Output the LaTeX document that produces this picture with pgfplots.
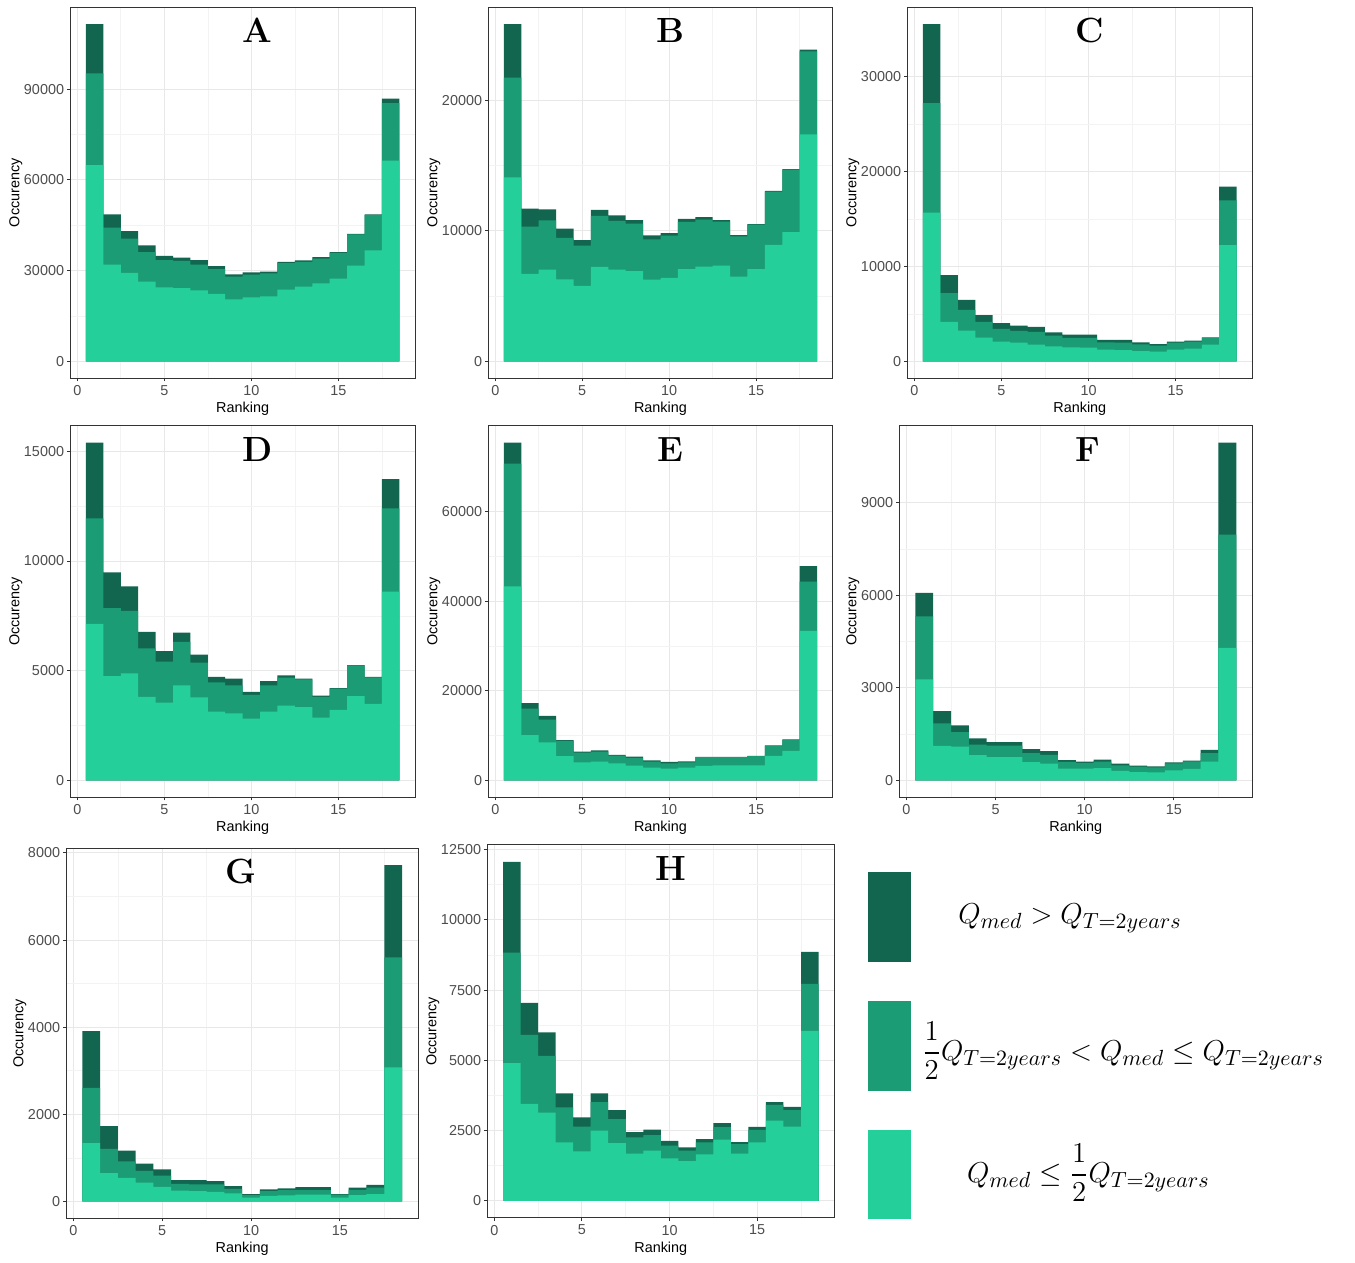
\documentclass[border=0pt]{standalone}
\usepackage{amsmath}
\usepackage{pgfplots}
\pgfplotsset{compat=1.18}
\usepackage{pgfplotstable}
\usepackage{fontspec}
\setsansfont{Liberation Sans}

\definecolor{dk}{HTML}{12664F}
\definecolor{md}{HTML}{1C9C74}
\definecolor{lt}{HTML}{25CF99}
\definecolor{grmaj}{HTML}{E8E8E8}
\definecolor{grmin}{HTML}{F3F3F3}
\definecolor{frm}{HTML}{333333}
\definecolor{tlab}{HTML}{4D4D4D}

% columns: ranking, light top, medium top, total (dark top)
\pgfplotstableread{
x lo mid tot
1 64900 95200 111500
2 32000 44200 48600
3 29300 40600 43100
4 26400 36100 38400
5 24500 33500 34900
6 24200 33200 34300
7 23500 32000 33500
8 22300 30500 31500
9 20500 28000 28800
10 21200 28700 29400
11 21500 29100 29700
12 23700 32500 32900
13 24700 32900 33400
14 25800 34000 34500
15 27400 35900 36100
16 31700 42000 42200
17 36700 48400 48600
18 66400 85400 86900
}\tA
\pgfplotstableread{
x lo mid tot
1 14090 21740 25830
2 6700 10320 11710
3 7030 10810 11650
4 6290 9470 10170
5 5780 8860 9290
6 7240 11140 11600
7 7030 10760 11190
8 6910 10550 10830
9 6260 9340 9650
10 6390 9630 9830
11 7060 10680 10910
12 7260 10860 11060
13 7340 10700 10830
14 6490 9570 9680
15 7060 10470 10520
16 8930 13010 13070
17 9910 14680 14730
18 17380 23740 23870
}\tB
\pgfplotstableread{
x lo mid tot
1 15650 27180 35500
2 4160 7190 9090
3 3240 5430 6490
4 2500 4160 4860
5 2080 3420 4020
6 1970 3210 3770
7 1760 3100 3630
8 1590 2710 3070
9 1480 2470 2820
10 1450 2470 2820
11 1230 2010 2260
12 1200 1970 2260
13 1090 1800 2010
14 1020 1660 1830
15 1230 1970 2080
16 1340 2080 2190
17 1760 2470 2540
18 12230 16960 18400
}\tC
\pgfplotstableread{
x lo mid tot
1 7130 11940 15400
2 4750 7850 9480
3 4880 7730 8850
4 3810 6020 6770
5 3540 5420 5890
6 4330 6320 6740
7 3780 5370 5730
8 3140 4470 4720
9 3050 4330 4640
10 2820 3900 4030
11 3140 4330 4520
12 3410 4690 4790
13 3340 4610 4640
14 2860 3810 3860
15 3220 4180 4210
16 3840 5240 5250
17 3490 4700 4720
18 8600 12400 13730
}\tD
\pgfplotstableread{
x lo mid tot
1 43290 70630 75350
2 10110 16030 17230
3 8460 13560 14380
4 5390 8840 8990
5 4040 6220 6440
6 4190 6440 6670
7 3820 5540 5690
8 3300 5020 5320
9 2850 4190 4490
10 2620 3820 4120
11 2850 4040 4270
12 3220 5170 5240
13 3370 5170 5240
14 3370 5170 5240
15 3370 5390 5470
16 5470 7710 7790
17 6590 9060 9140
18 33330 44340 47790
}\tE
\pgfplotstableread{
x lo mid tot
1 3270 5310 6070
2 1120 1850 2240
3 1090 1560 1780
4 815 1160 1360
5 750 1130 1240
6 750 1130 1240
7 590 880 1010
8 545 825 945
9 380 600 660
10 380 565 610
11 400 610 675
12 305 490 545
13 270 445 480
14 260 425 455
15 325 555 585
16 370 620 640
17 610 880 990
18 4290 7960 10940
}\tF
\pgfplotstableread{
x lo mid tot
1 1340 2610 3910
2 650 1210 1730
3 540 920 1170
4 435 700 870
5 335 595 735
6 250 405 490
7 235 395 490
8 220 390 465
9 185 290 350
10 90 145 170
11 130 235 275
12 140 260 300
13 155 260 330
14 155 260 330
15 90 155 170
16 145 265 320
17 170 320 380
18 3080 5600 7720
}\tG
\pgfplotstableread{
x lo mid tot
1 4900 8830 12060
2 3450 5900 7040
3 3140 5160 5990
4 2080 3320 3820
5 1760 2640 2970
6 2500 3510 3820
7 2050 2910 3230
8 1680 2260 2440
9 1780 2340 2530
10 1510 1960 2130
11 1410 1780 1900
12 1650 2080 2190
13 2180 2620 2760
14 1680 2020 2090
15 2080 2520 2630
16 2850 3410 3510
17 2640 3230 3340
18 6050 7720 8860
}\tH

\pgfplotsset{
  panel/.style={
    scale only axis, anchor=south west,
    xmin=-0.4, xmax=19.4,
    xtick={0,5,10,15}, minor xtick={2.5,7.5,12.5,17.5},
    minor y tick num=1,
    grid=both,
    major grid style={draw=grmaj, line width=0.5pt},
    minor grid style={draw=grmin, line width=0.3pt},
    axis line style={draw=frm, line width=0.5pt},
    tick align=outside, xtick pos=bottom, ytick pos=left,
    major tick length=1.6pt,
    major tick style={draw=frm, line width=0.5pt},
    minor tick style={draw=none},
    ticklabel style={font=\fontsize{7.2}{8}\sffamily, text=tlab},
    xticklabel style={yshift=1.5pt},
    yticklabel style={xshift=2pt, /pgf/number format/fixed, /pgf/number format/1000 sep={}},
    /pgf/number format/assume math mode=true,
    scaled y ticks=false,
    label style={font=\fontsize{7.2}{8}\sffamily},
    xlabel={Ranking}, ylabel={Occurency},
    xlabel style={yshift=3.5pt},
    ylabel style={yshift=-6pt},
  },
  bars/.style={ybar, bar width=1, bar shift=0pt, draw=none},
}

\newcommand{\panel}[4]{%
  \begin{axis}[panel, #1]
    \addplot[bars, fill=dk] table[x=x, y=tot] {#2};
    \addplot[bars, fill=md] table[x=x, y=mid] {#2};
    \addplot[bars, fill=lt] table[x=x, y=lo] {#2};
    \node[font=\fontsize{17.5}{20}\selectfont\bfseries] at (rel axis cs:#3,0.937) {#4};
  \end{axis}}

\begin{document}
\begin{tikzpicture}
\useasboundingbox (0,0) rectangle (677.5pt,631.5pt);

\panel{at={(35.15pt,442.35pt)}, width=172.35pt, height=185.5pt,
  ymin=-5575, ymax=117075, ytick={0,30000,60000,90000}}{\tA}{0.543}{A}
\panel{at={(244.15pt,442.35pt)}, width=172.2pt, height=185.5pt,
  ymin=-1291.5, ymax=27121.5, ytick={0,10000,20000}}{\tB}{0.528}{B}
\panel{at={(453.65pt,442.35pt)}, width=172.5pt, height=185.5pt,
  ymin=-1775, ymax=37275, ytick={0,10000,20000,30000}}{\tC}{0.53}{C}

\panel{at={(35.15pt,232.85pt)}, width=172.35pt, height=185.8pt,
  ymin=-770, ymax=16170, ytick={0,5000,10000,15000}}{\tD}{0.543}{D}
\panel{at={(244.15pt,232.85pt)}, width=172.2pt, height=185.8pt,
  ymin=-3767.5, ymax=79117.5, ytick={0,20000,40000,60000}}{\tE}{0.528}{E}
\panel{at={(449.65pt,232.85pt)}, width=176.5pt, height=185.8pt,
  ymin=-547, ymax=11487, ytick={0,3000,6000,9000}}{\tF}{0.535}{F}

\panel{at={(33.15pt,22.35pt)}, width=175.85pt, height=185pt,
  ymin=-386, ymax=8106, ytick={0,2000,4000,6000,8000}}{\tG}{0.498}{G}
\panel{at={(243.65pt,22.65pt)}, width=173.5pt, height=186.35pt,
  ymin=-603, ymax=12663, ytick={0,2500,5000,7500,10000,12500}}{\tH}{0.529}{H}

% legend
\fill[dk] (434.15pt,150.35pt) rectangle (455.5pt,195.35pt);
\fill[md] (434.15pt,86pt) rectangle (455.5pt,131pt);
\fill[lt] (434.15pt,22.15pt) rectangle (455.5pt,66.5pt);
\node[anchor=west, inner sep=0pt, font=\fontsize{15.7}{18}\selectfont] at (479pt,172.5pt)
  {$Q_{med} > Q_{T=2years}$};
\node[anchor=west, inner sep=0pt, font=\fontsize{15.5}{18}\selectfont] at (460.85pt,106pt)
  {$\dfrac{1}{2}Q_{T=2years} < Q_{med} \leq Q_{T=2years}$};
\node[anchor=west, inner sep=0pt, font=\fontsize{15.7}{18}\selectfont] at (483.35pt,45pt)
  {$Q_{med} \leq \dfrac{1}{2}Q_{T=2years}$};
\end{tikzpicture}
\end{document}
